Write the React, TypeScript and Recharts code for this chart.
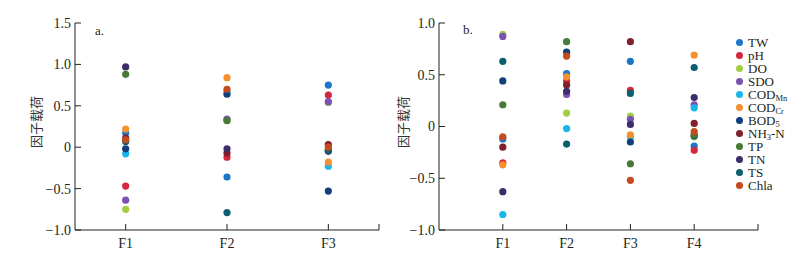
import { ScatterChart, Scatter, XAxis, YAxis, Label } from 'recharts';

// factor loadings
const factorsA = ['F1', 'F2', 'F3'];
const factorsB = ['F1', 'F2', 'F3', 'F4'];

const twA = [0.17, -0.36, 0.75];
const phA = [-0.47, -0.12, 0.63];
const doA = [-0.75, 0.33, 0.54];
const sdoA = [-0.64, 0.34, 0.55];
const codMnA = [-0.08, 0.67, -0.23];
const codCrA = [0.22, 0.84, -0.18];
const bod5A = [-0.02, 0.64, -0.53];
const nh3nA = [0.11, -0.07, 0.03];
const tpA = [0.88, 0.32, -0.03];
const tnA = [0.97, -0.02, -0.05];
const tsA = [0.07, -0.79, -0.04];
const chlaA = [0.09, 0.7, 0.0];

const twB = [-0.12, 0.51, 0.63, -0.19];
const phB = [-0.35, 0.44, 0.35, -0.23];
const doB = [0.89, 0.13, 0.1, -0.1];
const sdoB = [0.87, 0.31, 0.07, 0.21];
const codMnB = [-0.85, -0.02, -0.1, 0.18];
const codCrB = [-0.37, 0.48, -0.08, 0.69];
const bod5B = [0.44, 0.72, -0.15, -0.09];
const nh3nB = [-0.2, 0.4, 0.82, 0.03];
const tpB = [0.21, 0.82, -0.36, -0.08];
const tnB = [-0.63, 0.34, 0.02, 0.28];
const tsB = [0.63, -0.17, 0.32, 0.57];
const chlaB = [-0.1, 0.68, -0.52, -0.05];

const ticksA = [-1, -0.5, 0, 0.5, 1, 1.5];
const ticksB = [-1, -0.5, 0, 0.5, 1];

const series = [
  { name: 'TW', sub: '', color: '#1c76c8', a: twA, b: twB },
  { name: 'pH', sub: '', color: '#d4283e', a: phA, b: phB },
  { name: 'DO', sub: '', color: '#a2cd45', a: doA, b: doB },
  { name: 'SDO', sub: '', color: '#7c52b0', a: sdoA, b: sdoB },
  { name: 'COD', sub: 'Mn', color: '#19b6e9', a: codMnA, b: codMnB },
  { name: 'COD', sub: 'Cr', color: '#f4902e', a: codCrA, b: codCrB },
  { name: 'BOD', sub: '5', color: '#113f7c', a: bod5A, b: bod5B },
  { name: 'NH', sub: '3', tail: '-N', color: '#80202b', a: nh3nA, b: nh3nB },
  { name: 'TP', sub: '', color: '#467a36', a: tpA, b: tpB },
  { name: 'TN', sub: '', color: '#3b2f6b', a: tnA, b: tnB },
  { name: 'TS', sub: '', color: '#0b5f6f', a: tsA, b: tsB },
  { name: 'Chla', sub: '', color: '#c34b1d', a: chlaA, b: chlaB },
];

const serif = '"Liberation Serif", "Times New Roman", serif';
const ink = '#231f20';

const fmt = (v: number) => {
  if (v === 0) return '0';
  const s = Math.abs(v).toFixed(1);
  return v < 0 ? `\u2212${s}` : s;
};

const YTick = (props: any) => {
  const { x, y, payload } = props;
  return (
    <g>
      <line x1={x} y1={y} x2={x + 6} y2={y} stroke={ink} strokeWidth={1} />
      <text x={x - 4} y={y} dy="0.35em" textAnchor="end" fontFamily={serif} fontSize={14} fill={ink}>
        {fmt(payload.value)}
      </text>
    </g>
  );
};

const makeXTick = (labels: string[]) => (props: any) => {
  const { x, y, payload } = props;
  const label = Number.isInteger(payload.value) ? labels[payload.value - 1] : undefined;
  return (
    <g>
      <line x1={x} y1={y} x2={x} y2={y - 6} stroke={ink} strokeWidth={1} />
      {label && (
        <text x={x} y={y + 18} textAnchor="middle" fontFamily={serif} fontSize={14} fill={ink}>
          {label}
        </text>
      )}
    </g>
  );
};

const dot = (color: string) => (p: any) => <circle cx={p.cx} cy={p.cy} r={3.6} fill={color} />;

const yLabel = (x: number) => () => (
  <text
    x={x}
    y={122}
    transform={`rotate(-90, ${x}, 122)`}
    textAnchor="middle"
    dominantBaseline="central"
    fontFamily='"Noto Sans CJK SC", sans-serif'
    fontSize={13}
    fill="#333"
  >
    因子载荷
  </text>
);

export default function App() {
  return (
    <div style={{ position: 'relative', width: 804, height: 257, background: '#fff' }}>
      <style>{'body{margin:0}'}</style>

      <div style={{ position: 'absolute', left: 0, top: 0 }}>
        <ScatterChart width={390} height={257} margin={{ top: 23, right: 11, bottom: 0, left: 0 }}>
          <XAxis
            type="number"
            dataKey="x"
            domain={[0.5, 3.5]}
            ticks={[1, 2, 3, 3.5]}
            height={27}
            tickSize={0}
            tickMargin={0}
            tickLine={false}
            axisLine={{ stroke: ink }}
            tick={makeXTick(factorsA)}
            allowDataOverflow
          />
          <YAxis
            type="number"
            dataKey="y"
            domain={[-1, 1.5]}
            ticks={ticksA}
            width={75}
            tickSize={0}
            tickMargin={0}
            tickLine={false}
            axisLine={{ stroke: ink }}
            tick={<YTick />}
            allowDataOverflow
          >
            <Label content={yLabel(35)} />
          </YAxis>
          {series.map((s, k) => (
            <Scatter
              key={k}
              data={factorsA.map((_, i) => ({ x: i + 1, y: s.a[i] }))}
              fill={s.color}
              shape={dot(s.color)}
              isAnimationActive={false}
            />
          ))}
        </ScatterChart>
      </div>

      <div style={{ position: 'absolute', left: 390, top: 0 }}>
        <ScatterChart width={414} height={257} margin={{ top: 23, right: 46, bottom: 0, left: 0 }}>
          <XAxis
            type="number"
            dataKey="x"
            domain={[0, 5]}
            ticks={[1, 2, 3, 4, 5]}
            height={27}
            tickSize={0}
            tickMargin={0}
            tickLine={false}
            axisLine={{ stroke: ink }}
            tick={makeXTick(factorsB)}
            allowDataOverflow
          />
          <YAxis
            type="number"
            dataKey="y"
            domain={[-1, 1]}
            ticks={ticksB}
            width={49}
            tickSize={0}
            tickMargin={0}
            tickLine={false}
            axisLine={{ stroke: ink }}
            tick={<YTick />}
            allowDataOverflow
          >
            <Label content={yLabel(12)} />
          </YAxis>
          {series.map((s, k) => (
            <Scatter
              key={k}
              data={factorsB.map((_, i) => ({ x: i + 1, y: s.b[i] }))}
              fill={s.color}
              shape={dot(s.color)}
              isAnimationActive={false}
            />
          ))}
        </ScatterChart>
      </div>

      <div style={{ position: 'absolute', left: 95, top: 23, fontFamily: serif, fontSize: 13, color: ink }}>a.</div>
      <div style={{ position: 'absolute', left: 463, top: 22, fontFamily: serif, fontSize: 13, color: ink }}>b.</div>

      <div style={{ position: 'absolute', left: 736, top: 35.5, fontFamily: serif, fontSize: 13, color: ink }}>
        {series.map((s, k) => (
          <div key={k} style={{ height: 13, display: 'flex', alignItems: 'center', whiteSpace: 'nowrap' }}>
            <span
              style={{ width: 7, height: 7, borderRadius: '50%', background: s.color, display: 'inline-block', marginRight: 5 }}
            />
            <span style={{ lineHeight: '13px' }}>
              {s.name}
              {s.sub && <sub style={{ fontSize: 8.5, verticalAlign: '-2px', lineHeight: 0 }}>{s.sub}</sub>}
              {s.tail || ''}
            </span>
          </div>
        ))}
      </div>
    </div>
  );
}
